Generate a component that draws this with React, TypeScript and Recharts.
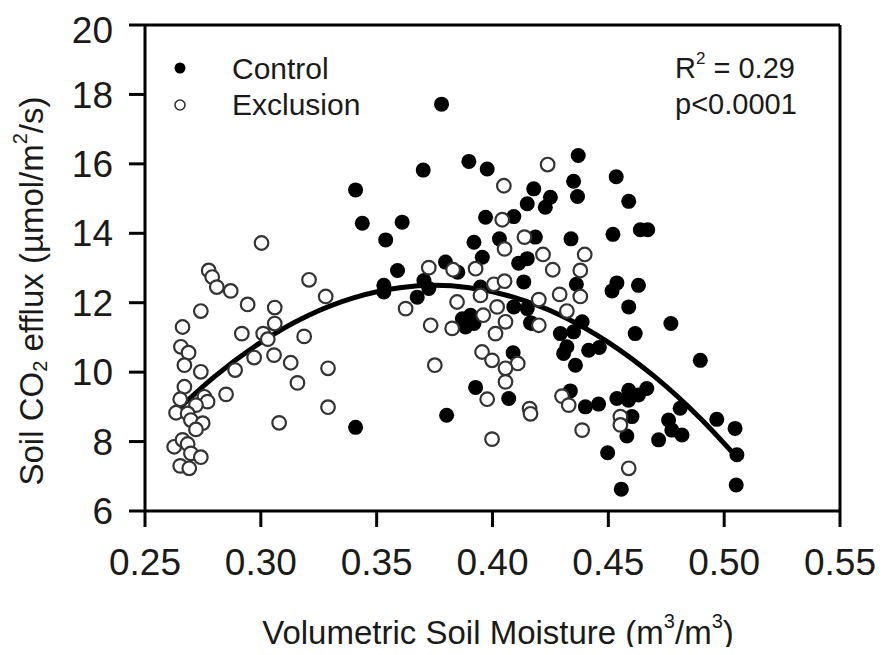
import React from 'react';
import { ComposedChart, Scatter, Line, XAxis, YAxis, ReferenceLine } from 'recharts';

// soil moisture (m3/m3) vs CO2 efflux
const controlX = [
  0.378, 0.3701, 0.3898, 0.3977, 0.3409, 0.3438, 0.361, 0.3539, 0.397, 0.392,
  0.3956, 0.359, 0.3797, 0.385, 0.3531, 0.3531, 0.3409, 0.4178, 0.415, 0.4092,
  0.403, 0.4185, 0.4113, 0.415, 0.3704, 0.3675, 0.3725, 0.3948, 0.4092, 0.415,
  0.387, 0.3905, 0.3884, 0.392, 0.4171, 0.4089, 0.3927, 0.407, 0.3802, 0.437,
  0.4534, 0.435, 0.4367, 0.425, 0.4228, 0.4588, 0.452, 0.4638, 0.467, 0.4339,
  0.4135, 0.4362, 0.4537, 0.4516, 0.463, 0.4588, 0.4387, 0.4164, 0.4293, 0.435,
  0.477, 0.4616, 0.4321, 0.4307, 0.4358, 0.4415, 0.4461, 0.4897, 0.4336, 0.4401,
  0.4458, 0.4537, 0.4588, 0.463, 0.4666, 0.4587, 0.4602, 0.458, 0.4497, 0.4556,
  0.4717, 0.476, 0.4774, 0.4818, 0.481, 0.4968, 0.5047, 0.5055, 0.5052,
];
const controlY = [
  17.72, 15.82, 16.07, 15.85, 15.25, 14.29, 14.32, 13.81, 14.46, 13.74,
  13.31, 12.93, 13.17, 12.88, 12.5, 12.31, 8.41, 15.28, 14.85, 14.48,
  13.84, 13.89, 13.14, 13.27, 12.64, 12.16, 12.41, 12.45, 11.88, 11.83,
  11.54, 11.64, 11.3, 11.4, 11.4, 10.56, 9.56, 9.24, 8.76, 16.24,
  15.63, 15.5, 15.06, 15.04, 14.75, 14.92, 13.97, 14.1, 14.1, 13.84,
  12.6, 12.53, 12.57, 12.34, 12.5, 11.88, 11.45, 11.42, 11.11, 11.16,
  11.4, 11.11, 10.73, 10.54, 10.2, 10.63, 10.71, 10.34, 9.46, 9.0,
  9.08, 9.24, 9.48, 9.34, 9.53, 9.19, 8.72, 8.16, 7.68, 6.63,
  8.05, 8.62, 8.33, 8.19, 8.96, 8.64, 8.38, 7.62, 6.75,
];

const exclusionX = [
  0.3003, 0.2775, 0.279, 0.281, 0.287, 0.2943, 0.306, 0.2741, 0.2662, 0.306,
  0.2918, 0.301, 0.2655, 0.2688, 0.303, 0.267, 0.2741, 0.2971, 0.3057, 0.2889,
  0.3129, 0.3158, 0.267, 0.2652, 0.2756, 0.277, 0.272, 0.285, 0.2634, 0.2684,
  0.2698, 0.2749, 0.272, 0.3079, 0.2626, 0.2662, 0.2684, 0.2698, 0.2741, 0.2652,
  0.2691, 0.3208, 0.328, 0.3625, 0.3187, 0.329, 0.329, 0.3725, 0.383, 0.3927,
  0.4049, 0.4042, 0.4052, 0.4138, 0.4006, 0.4052, 0.3948, 0.3847, 0.396, 0.402,
  0.3733, 0.3826, 0.4056, 0.4013, 0.3955, 0.3998, 0.4109, 0.4056, 0.4056, 0.3751,
  0.3977, 0.416, 0.4164, 0.3998, 0.4238, 0.4218, 0.4398, 0.426, 0.4379, 0.429,
  0.4379, 0.42, 0.4321, 0.42, 0.43, 0.4329, 0.4552, 0.4552, 0.4387, 0.4588,
];
const exclusionY = [
  13.72, 12.93, 12.74, 12.45, 12.34, 11.95, 11.86, 11.76, 11.3, 11.4,
  11.11, 11.11, 10.73, 10.56, 10.95, 10.2, 10.01, 10.42, 10.49, 10.06,
  10.27, 9.69, 9.58, 9.22, 9.29, 9.15, 9.05, 9.36, 8.83, 8.81,
  8.62, 8.53, 8.35, 8.54, 7.85, 8.05, 7.93, 7.66, 7.55, 7.3,
  7.23, 12.66, 12.18, 11.83, 11.03, 10.11, 8.99, 13.01, 12.95, 12.98,
  15.37, 14.39, 13.55, 13.89, 12.53, 12.62, 12.21, 12.02, 11.64, 11.88,
  11.35, 11.26, 11.45, 11.11, 10.58, 10.34, 10.25, 10.11, 9.72, 10.2,
  9.22, 8.95, 8.8, 8.07, 15.98, 13.39, 13.39, 12.95, 12.93, 12.24,
  12.18, 12.09, 11.76, 11.35, 9.31, 9.05, 8.72, 8.48, 8.33, 7.23,
];

// quadratic fit line, sampled off the figure
const fitX = [0.263, 0.28, 0.3, 0.32, 0.34, 0.36, 0.375, 0.39, 0.41, 0.43, 0.45, 0.47, 0.49, 0.505];
const fitY = [8.85, 9.87, 10.86, 11.62, 12.14, 12.43, 12.5, 12.43, 12.14, 11.62, 10.86, 9.87, 8.65, 7.58];

const xTicks = [0.25, 0.3, 0.35, 0.4, 0.45, 0.5, 0.55];
const yTicks = [6, 8, 10, 12, 14, 16, 18, 20];

const control = controlX.map((x, i) => ({ x, y: controlY[i] }));
const exclusion = exclusionX.map((x, i) => ({ x, y: exclusionY[i] }));
const fit = fitX.map((x, i) => ({ x, y: fitY[i] }));

const FONT = '"Liberation Sans", Arial, Helvetica, sans-serif';
const INK = '#1a1a1a';

const FilledDot = (props: any) => <circle cx={props.cx} cy={props.cy} r={7.5} fill="#000" />;
const OpenDot = (props: any) => (
  <circle cx={props.cx} cy={props.cy} r={6.8} fill="#fff" stroke="#333" strokeWidth={2.2} />
);

export default function App() {
  const W = 877;
  const H = 639;
  return (
    <div style={{ position: 'relative', width: W, height: H, fontFamily: FONT }}>
      <ComposedChart width={W} height={H} margin={{ top: 17, right: 45, left: 0, bottom: 0 }}>
        <XAxis
          type="number"
          dataKey="x"
          domain={[0.25, 0.55]}
          ticks={xTicks}
          tickFormatter={(v: number) => v.toFixed(2)}
          height={136}
          tickSize={16}
          tickMargin={22}
          axisLine={{ stroke: '#000', strokeWidth: 3 }}
          tickLine={{ stroke: '#000', strokeWidth: 3 }}
          tick={{ fontSize: 37, fill: INK, fontFamily: FONT }}
          allowDataOverflow
        />
        <YAxis
          type="number"
          dataKey="y"
          domain={[6, 20]}
          ticks={yTicks}
          width={137}
          tickSize={16}
          tickMargin={16}
          axisLine={{ stroke: '#000', strokeWidth: 3 }}
          tickLine={{ stroke: '#000', strokeWidth: 3 }}
          tick={{ fontSize: 37, fill: INK, fontFamily: FONT }}
          allowDataOverflow
        />
        <ReferenceLine y={20} stroke="#000" strokeWidth={3} />
        <ReferenceLine x={0.55} stroke="#000" strokeWidth={3} />
        <Scatter name="Control" data={control} shape={FilledDot} isAnimationActive={false} />
        <Scatter name="Exclusion" data={exclusion} shape={OpenDot} isAnimationActive={false} />
        <Line
          data={fit}
          dataKey="y"
          type="monotone"
          stroke="#000"
          strokeWidth={5}
          dot={false}
          activeDot={false}
          isAnimationActive={false}
        />
      </ComposedChart>

      <svg
        width={W}
        height={H}
        style={{ position: 'absolute', left: 0, top: 0, pointerEvents: 'none', overflow: 'visible' }}
        fontFamily={FONT}
        fill={INK}
      >
        {/* legend */}
        <circle cx={172} cy={60} r={5.5} fill="#000" />
        <text x={224} y={60} fontSize={30} dominantBaseline="central">Control</text>
        <circle cx={172} cy={97} r={5} fill="#fff" stroke="#333" strokeWidth={1.6} />
        <text x={224} y={96} fontSize={30} dominantBaseline="central">Exclusion</text>

        {/* fit statistics */}
        <text x={667} y={60} fontSize={29} dominantBaseline="central">
          R<tspan fontSize={17} dy={-10}>2</tspan>
          <tspan dy={10}> = 0.29</tspan>
        </text>
        <text x={667} y={96} fontSize={29} dominantBaseline="central">p&lt;0.0001</text>

        {/* axis titles */}
        <text x={490} y={624} fontSize={33} textAnchor="middle" dominantBaseline="central">
          Volumetric Soil Moisture (m<tspan fontSize={20} dy={-11}>3</tspan>
          <tspan dy={11}>/m</tspan>
          <tspan fontSize={20} dy={-11}>3</tspan>
          <tspan dy={11}>)</tspan>
        </text>
        <text
          x={0}
          y={0}
          fontSize={33}
          textAnchor="middle"
          dominantBaseline="central"
          transform="translate(23 283) rotate(-90)"
        >
          Soil CO<tspan fontSize={20} dy={9}>2</tspan>
          <tspan dy={-9}> efflux (µmol/m</tspan>
          <tspan fontSize={20} dy={-11}>2</tspan>
          <tspan dy={11}>/s)</tspan>
        </text>
      </svg>
    </div>
  );
}
